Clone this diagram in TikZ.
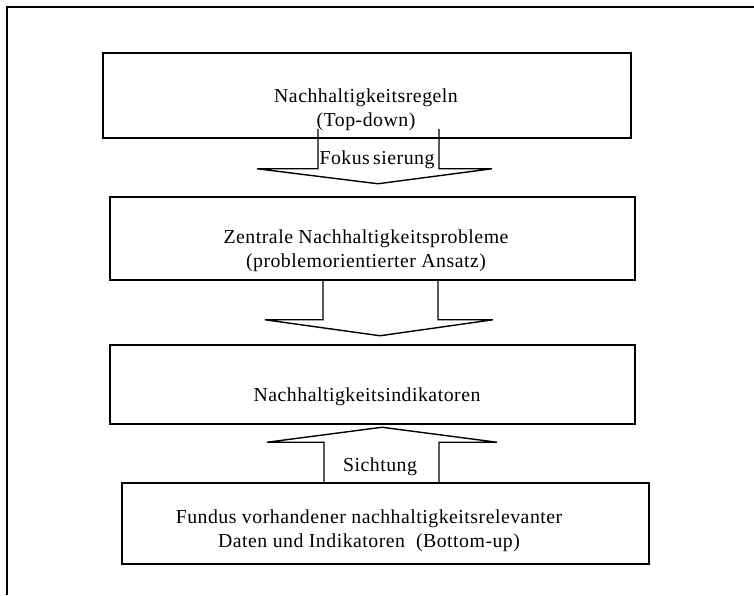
\documentclass[tikz,border=0pt]{standalone}
\usepackage{fontspec}
\setmainfont{Liberation Serif}[LetterSpace=2.5]
\usetikzlibrary{calc}

\tikzstyle{box} = [draw,line width=1.5pt,rectangle,inner sep=0pt]
\tikzstyle{boxtext} = [align=center,inner sep=0pt,font=\fontsize{19.8}{24}\selectfont]
\tikzstyle{blockarrow} = [draw,line width=1.4pt,line join=miter]
\tikzstyle{frame} = [draw,line width=1.5pt]

\begin{document}
\begin{tikzpicture}[x=1pt,y=-1pt]
    \useasboundingbox (0,0) rectangle (754,595);

    % outer frame (cut off at right and bottom)
    \draw[frame] (7,595) -- (7,7) -- (754,7);

    % boxes
    \foreach \nodename/\x/\y/\w/\h in {
      regeln/367/95.5/528/85,
      probleme/372.5/238.5/525/83,
      indikatoren/372.5/384.5/525/79,
      fundus/385.5/523.5/527/81}
    {
      \node[box, minimum width=\w pt, minimum height=\h pt] (\nodename) at (\x,\y) {};
    }

    % texts inside the boxes
    \node[boxtext] (regelntext) at (366,110) {Nachhaltigkeitsregeln\\(Top-down)};
    \node[boxtext] (problemetext) at (366,251) {Zentrale Nachhaltigkeitsprobleme\\(problemorientierter Ansatz)};
    \node[boxtext] (indikatorentext) at (367,397) {Nachhaltigkeitsindikatoren};
    \node[boxtext] (fundustext) at (369,531) {Fundus vorhandener nachhaltigkeitsrelevanter\\Daten und Indikatoren\ \ (Bottom-up)};

    %block arrows
    \draw[blockarrow]
      ($(regeln.south)+(-49,-10)$) -- ++(0,40) -- ($(regeln.south)+(-110,30)$)
      -- ($(regeln.south)+(11,45)$) -- ($(regeln.south)+(125,30)$)
      -- ($(regeln.south)+(72,30)$) -- ++(0,-40);
    \draw[blockarrow]
      ($(probleme.south)+(-49.5,0)$) -- ++(0,39) -- ($(probleme.south)+(-107.5,39)$)
      -- ($(probleme.south)+(7.5,55)$) -- ($(probleme.south)+(120.5,39)$)
      -- ($(probleme.south)+(65.5,39)$) -- ++(0,-39);
    \draw[blockarrow]
      ($(fundus.north)+(-61.5,0)$) -- ++(0,-40) -- ($(fundus.north)+(-118.5,-40)$)
      -- ($(fundus.north)+(-3.5,-55)$) -- ($(fundus.north)+(111.5,-40)$)
      -- ($(fundus.north)+(53.5,-40)$) -- ++(0,40);

    % arrow labels
    \node[boxtext] (fokus) at (377,160) {Fokus\,sierung};
    \node[boxtext] (sichtung) at (380,467) {Sichtung};

  \end{tikzpicture}
\end{document}
